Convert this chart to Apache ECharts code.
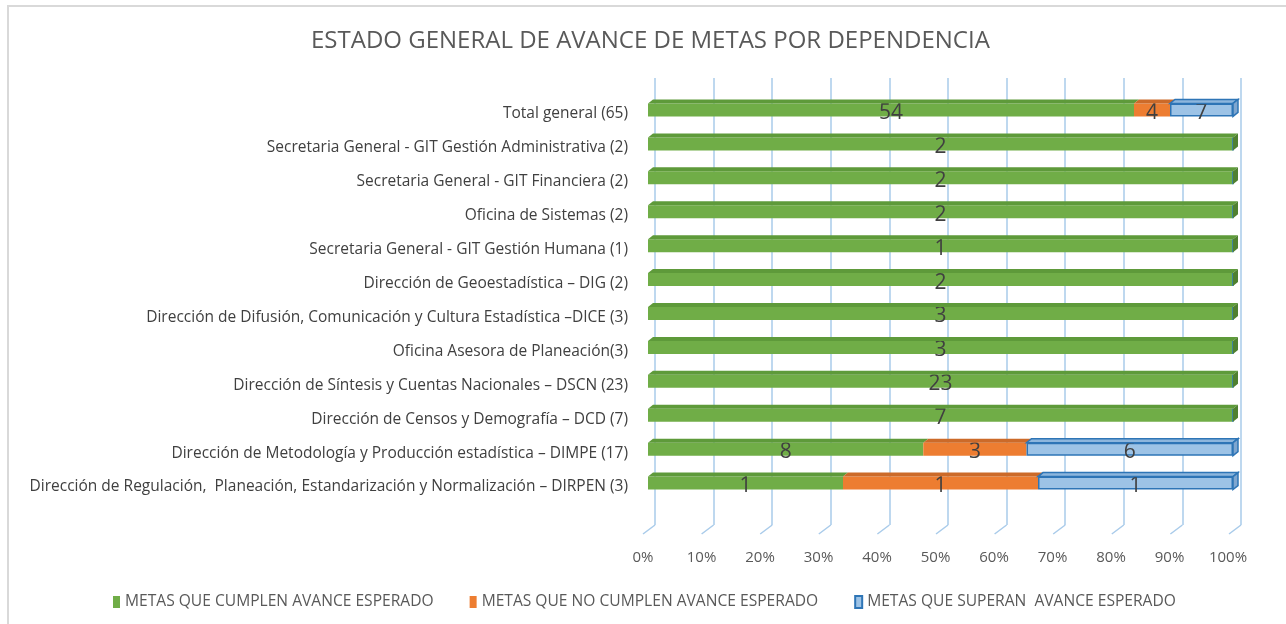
<!DOCTYPE html>
<html>
<head>
<meta charset="utf-8">
<script src="https://cdn.jsdelivr.net/npm/echarts@6/dist/echarts.min.js"></script>
<style>
html,body{margin:0;padding:0;background:#fff;}
#chart{width:1286px;height:624px;}
</style>
</head>
<body>
<div id="chart"></div>
<script>
// Categories, top to bottom
const categories = [
  'Total general (65)',
  'Secretaria General - GIT Gestión Administrativa (2)',
  'Secretaria General - GIT Financiera (2)',
  'Oficina de Sistemas (2)',
  'Secretaria General - GIT Gestión Humana (1)',
  'Dirección de Geoestadística – DIG (2)',
  'Dirección de Difusión, Comunicación y Cultura Estadística –DICE (3)',
  'Oficina Asesora de Planeación(3)',
  'Dirección de Síntesis y Cuentas Nacionales – DSCN (23)',
  'Dirección de Censos y Demografía – DCD (7)',
  'Dirección de Metodología y Producción estadística – DIMPE (17)',
  'Dirección de Regulación,  Planeación, Estandarización y Normalización – DIRPEN (3)'
];
const cumplen  = [54, 2, 2, 2, 1, 2, 3, 3, 23, 7, 8, 1];
const noCumplen = [4, 0, 0, 0, 0, 0, 0, 0, 0, 0, 3, 1];
const superan  = [7, 0, 0, 0, 0, 0, 0, 0, 0, 0, 6, 1];
const seriesNames = ['METAS QUE CUMPLEN AVANCE ESPERADO', 'METAS QUE NO CUMPLEN AVANCE ESPERADO', 'METAS QUE SUPERAN  AVANCE ESPERADO'];
const xTicks = [0, 10, 20, 30, 40, 50, 60, 70, 80, 90, 100];

const counts = [cumplen, noCumplen, superan];
const totals = categories.map((_, i) => cumplen[i] + noCumplen[i] + superan[i]);

const frontColors = ['#70AD47', '#ED7D31', '#9DC3E6'];
const topColors = ['#5E9A3A', '#CC6A29', '#8DB6DD'];
const sideColors = ['#4F8030', '#B35B22', '#7FA6CF'];
const blueBorder = '#2E75B6';
const BAR_H = 13, DX = 5, DY = 4;
const FONT = "'Open Sans', sans-serif";

// 3D face data: [start%, end%, catIndex, segIndex, isLast]
const faceData = [];
categories.forEach((_, i) => {
  let acc = 0;
  let lastSeg = -1;
  counts.forEach((arr, s) => { if (arr[i] > 0) lastSeg = s; });
  counts.forEach((arr, s) => {
    const pct = arr[i] / totals[i] * 100;
    if (arr[i] > 0) faceData.push([acc, acc + pct, i, s, s === lastSeg ? 1 : 0]);
    acc += pct;
  });
});

const barSeries = counts.map((arr, s) => ({
  name: seriesNames[s],
  type: 'bar',
  stack: 'total',
  xAxisIndex: 1,
  yAxisIndex: 1,
  barWidth: BAR_H,
  z: 3,
  itemStyle: s === 2 ? { color: frontColors[s], borderColor: blueBorder, borderWidth: 1.5 } : { color: frontColors[s] },
  label: {
    show: true,
    position: 'inside',
    fontFamily: FONT,
    fontSize: 21,
    color: '#404040',
    offset: [0, 3],
    formatter: p => (p.data.count > 0 ? String(p.data.count) : '')
  },
  data: arr.map((v, i) => ({ value: v / totals[i] * 100, count: v }))
}));

const option = {
  animation: false,
  backgroundColor: '#fff',
  title: {
    text: 'ESTADO GENERAL DE AVANCE DE METAS POR DEPENDENCIA',
    left: 306,
    top: 24,
    textStyle: { fontFamily: FONT, fontSize: 24, fontWeight: 'normal', color: '#595959' }
  },
  graphic: [{
    type: 'rect',
    shape: { x: 8, y: 6, width: 1300, height: 640 },
    style: { fill: 'none', stroke: '#d9d9d9', lineWidth: 2 },
    silent: true,
    z: -10
  }],
  legend: {
    data: seriesNames,
    left: 108,
    top: 589,
    itemWidth: 7,
    itemHeight: 12,
    itemGap: 36,
    icon: 'rect',
    textStyle: { fontFamily: FONT, fontSize: 15.6, color: '#595959' }
  },
  grid: [
    { left: 655, top: 78, width: 586, height: 447 },
    { left: 648, top: 93, width: 585, height: 407 }
  ],
  xAxis: [
    {
      gridIndex: 0, type: 'value', min: 0, max: 100, interval: 10,
      axisLine: { show: false }, axisTick: { show: false }, axisLabel: { show: false },
      splitLine: { show: true, lineStyle: { color: '#A9CBEA', width: 1.5 } }
    },
    {
      gridIndex: 1, type: 'value', min: 0, max: 100, interval: 10,
      axisLine: { show: false }, axisTick: { show: false },
      splitLine: { show: false },
      axisLabel: {
        margin: 50, fontFamily: FONT, fontSize: 15, color: '#595959',
        padding: [0, 10, 0, 0],
        formatter: '{value}%'
      }
    }
  ],
  yAxis: [
    { gridIndex: 0, type: 'value', min: 0, max: 1, show: false },
    {
      gridIndex: 1, type: 'category', data: categories, inverse: true,
      axisLine: { show: false }, axisTick: { show: false },
      axisLabel: {
        margin: 20, fontFamily: FONT, fontSize: 15.5, color: '#404040',
        formatter: v => '{a|' + v + '}',
        rich: { a: { fontFamily: FONT, fontSize: 15.5, color: '#404040', padding: [8, 0, 0, 0] } }
      }
    }
  ],
  series: [
    {
      type: 'custom',
      xAxisIndex: 0,
      yAxisIndex: 0,
      silent: true,
      data: xTicks,
      renderItem: (params, api) => {
        const p = api.coord([api.value(0), 0]);
        return {
          type: 'line',
          shape: { x1: p[0], y1: p[1], x2: p[0] - 12, y2: p[1] + 9 },
          style: { stroke: '#A9CBEA', lineWidth: 1.5 }
        };
      }
    },
    ...barSeries,
    {
      type: 'custom',
      xAxisIndex: 1,
      yAxisIndex: 1,
      silent: true,
      z: 4,
      data: faceData,
      renderItem: (params, api) => {
        const a = api.coord([api.value(0), api.value(2)]);
        const b = api.coord([api.value(1), api.value(2)]);
        const s = api.value(3);
        const last = api.value(4);
        const yt = a[1] - BAR_H / 2;
        const yb = a[1] + BAR_H / 2;
        const x0 = a[0], x1 = b[0];
        const stroke = s === 2 ? blueBorder : null;
        const children = [{
          type: 'polygon',
          shape: { points: [[x0, yt], [x1, yt], [x1 + DX, yt - DY], [x0 + DX, yt - DY]] },
          style: { fill: topColors[s], stroke: stroke, lineWidth: stroke ? 1.5 : 0 }
        }];
        if (last) {
          children.push({
            type: 'polygon',
            shape: { points: [[x1, yt], [x1 + DX, yt - DY], [x1 + DX, yb - DY], [x1, yb]] },
            style: { fill: sideColors[s], stroke: stroke, lineWidth: stroke ? 1.5 : 0 }
          });
        }
        return { type: 'group', children: children };
      }
    }
  ]
};

const chart = echarts.init(document.getElementById('chart'), null, { renderer: 'canvas' });
chart.setOption(option);
</script>
</body>
</html>
